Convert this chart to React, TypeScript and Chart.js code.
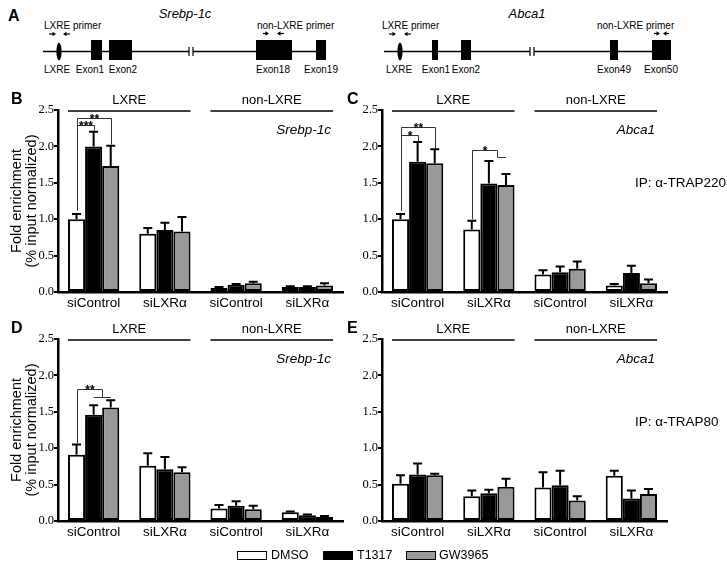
import React, { useEffect, useRef } from 'react';
import { Chart, registerables } from 'chart.js';

Chart.register(...registerables);

const SANS = "'Liberation Sans', Arial, Helvetica, sans-serif";
const SERIF = "'Liberation Serif', 'Times New Roman', serif";

// ---------- data ----------
const categories = ['siControl', 'siLXRα', 'siControl', 'siLXRα'];
const seriesNames = ['DMSO', 'T1317', 'GW3965'];
const seriesColors = ['#ffffff', '#000000', '#999999'];
const groupHeaders = ['LXRE', 'non-LXRE'];
const yTickValues = [0, 0.5, 1.0, 1.5, 2.0, 2.5];

// Panel B (Srebp-1c, IP TRAP220)
const bDMSO = [1.0, 0.8, 0.06, 0.07];
const bDMSOErr = [0.07, 0.08, 0.01, 0.01];
const bT1317 = [2.0, 0.85, 0.1, 0.07];
const bT1317Err = [0.2, 0.1, 0.01, 0.01];
const bGW = [1.73, 0.83, 0.12, 0.09];
const bGWErr = [0.28, 0.2, 0.02, 0.03];

// Panel C (Abca1, IP TRAP220)
const cDMSO = [1.0, 0.86, 0.24, 0.09];
const cDMSOErr = [0.07, 0.12, 0.06, 0.02];
const cT1317 = [1.79, 1.49, 0.27, 0.26];
const cT1317Err = [0.27, 0.31, 0.08, 0.1];
const cGW = [1.77, 1.47, 0.32, 0.12];
const cGWErr = [0.19, 0.15, 0.1, 0.05];

// Panel D (Srebp-1c, IP TRAP80)
const dDMSO = [0.91, 0.76, 0.17, 0.12];
const dDMSOErr = [0.14, 0.17, 0.05, 0.01];
const dT1317 = [1.46, 0.71, 0.21, 0.08];
const dT1317Err = [0.13, 0.17, 0.06, 0.01];
const dGW = [1.56, 0.67, 0.16, 0.06];
const dGWErr = [0.1, 0.07, 0.05, 0.01];

// Panel E (Abca1, IP TRAP80)
const eDMSO = [0.51, 0.34, 0.46, 0.62];
const eDMSOErr = [0.12, 0.08, 0.21, 0.07];
const eT1317 = [0.64, 0.38, 0.49, 0.31];
const eT1317Err = [0.15, 0.05, 0.2, 0.11];
const eGW = [0.63, 0.47, 0.28, 0.37];
const eGWErr = [0.02, 0.11, 0.06, 0.07];

// significance brackets: a/b are bar slots (0 DMSO, 1 T1317, 2 GW3965; fractions interpolate)
const bBrackets = [
  { cat: 0, a: 0, b: 1, top: 2.29, aEnd: 1.12, bEnd: 2.23, text: '***' },
  { cat: 0, a: 0, b: 2, top: 2.39, aEnd: 1.12, bEnd: 2.03, text: '**' },
];
const cBrackets = [
  { cat: 0, a: 0, b: 1, top: 2.16, aEnd: 1.12, bEnd: 2.08, text: '*' },
  { cat: 0, a: 0, b: 2, top: 2.26, aEnd: 1.12, bEnd: 1.98, text: '**' },
  { cat: 1, a: 0, b: 1.5, top: 1.95, aEnd: 1.0, bEnd: 1.85, stub: [1.5, 2], text: '*' },
];
const dBrackets = [
  { cat: 0, a: 0, b: 1.5, top: 1.82, aEnd: 1.07, bEnd: 1.7, stub: [1, 2], text: '**' },
];
const eBrackets: any[] = [];

// ---------- panels ----------
const panels = [
  {
    key: 'B', letter: 'B', gene: 'Srebp-1c', ip: null, ipValue: 0,
    values: [bDMSO, bT1317, bGW], errs: [bDMSOErr, bT1317Err, bGWErr], brackets: bBrackets,
    left: 0, top: 80, w: 360, h: 240, yw: 58, padTop: 30, padRight: 17, xh: 28, letterX: 11, yTitle: true,
  },
  {
    key: 'C', letter: 'C', gene: 'Abca1', ip: 'IP: α-TRAP220', ipValue: 1.5,
    values: [cDMSO, cT1317, cGW], errs: [cDMSOErr, cT1317Err, cGWErr], brackets: cBrackets,
    left: 340, top: 80, w: 387, h: 240, yw: 42, padTop: 30, padRight: 60, xh: 28, letterX: 7, yTitle: false,
  },
  {
    key: 'D', letter: 'D', gene: 'Srebp-1c', ip: null, ipValue: 0,
    values: [dDMSO, dT1317, dGW], errs: [dDMSOErr, dT1317Err, dGWErr], brackets: dBrackets,
    left: 0, top: 310, w: 360, h: 240, yw: 58, padTop: 29, padRight: 17, xh: 29, letterX: 11, yTitle: true,
  },
  {
    key: 'E', letter: 'E', gene: 'Abca1', ip: 'IP: α-TRAP80', ipValue: 1.36,
    values: [eDMSO, eT1317, eGW], errs: [eDMSOErr, eT1317Err, eGWErr], brackets: eBrackets,
    left: 340, top: 310, w: 387, h: 240, yw: 42, padTop: 29, padRight: 60, xh: 29, letterX: 7, yTitle: false,
  },
];

function slotX(chart: any, cat: number, slot: number) {
  const lo = Math.min(Math.floor(slot), 2);
  const hi = Math.min(lo + 1, 2);
  const f = slot - lo;
  const xa = chart.getDatasetMeta(lo).data[cat].x;
  const xb = chart.getDatasetMeta(hi).data[cat].x;
  return xa + (xb - xa) * f;
}

function buildConfig(p: any): any {
  const errorBars = {
    id: 'errbars' + p.key,
    afterDatasetsDraw(chart: any) {
      const ctx = chart.ctx;
      const ys = chart.scales.y;
      ctx.save();
      ctx.strokeStyle = '#000';
      ctx.lineWidth = 2;
      chart.data.datasets.forEach((ds: any, di: number) => {
        const meta = chart.getDatasetMeta(di);
        meta.data.forEach((el: any, i: number) => {
          const v = ds.data[i];
          const e = ds.errors[i];
          const y0 = ys.getPixelForValue(v);
          const y1 = ys.getPixelForValue(v + e);
          ctx.beginPath();
          ctx.moveTo(el.x, y0);
          ctx.lineTo(el.x, y1);
          ctx.moveTo(el.x - 4.5, y1);
          ctx.lineTo(el.x + 4.5, y1);
          ctx.stroke();
        });
      });
      ctx.restore();
    },
  };

  const decor = {
    id: 'decor' + p.key,
    afterDraw(chart: any) {
      const ctx = chart.ctx;
      const ys = chart.scales.y;
      const { top, right } = chart.chartArea;
      ctx.save();
      ctx.fillStyle = '#000';
      ctx.strokeStyle = '#000';
      // panel letter
      ctx.font = `bold 16px ${SANS}`;
      ctx.textAlign = 'left';
      ctx.textBaseline = 'middle';
      ctx.fillText(p.letter, p.letterX, top - 10);
      // group headers
      ctx.font = `13px ${SANS}`;
      ctx.textAlign = 'center';
      groupHeaders.forEach((h, gi) => {
        const c0 = gi * 2;
        const c1 = gi * 2 + 1;
        const e0: any = chart.getDatasetMeta(0).data[c0];
        const e1: any = chart.getDatasetMeta(2).data[c1];
        const x0 = e0.x - e0.width / 2;
        const x1 = e1.x + e1.width / 2;
        ctx.lineWidth = 1.5;
        ctx.beginPath();
        ctx.moveTo(x0, top + 1);
        ctx.lineTo(x1, top + 1);
        ctx.stroke();
        ctx.fillText(h, (x0 + x1) / 2, top - 10);
      });
      // gene name
      const last: any = chart.getDatasetMeta(2).data[3];
      ctx.font = `italic 13.5px ${SANS}`;
      ctx.textAlign = 'right';
      ctx.fillText(p.gene, last.x + last.width / 2 - 2, top + 20);
      // IP label
      if (p.ip) {
        ctx.font = `13.5px ${SANS}`;
        ctx.textAlign = 'left';
        ctx.fillText(p.ip, right - 32, ys.getPixelForValue(p.ipValue));
      }
      // brackets
      ctx.strokeStyle = '#333';
      ctx.lineWidth = 1;
      ctx.font = `bold 12px ${SANS}`;
      ctx.textAlign = 'center';
      ctx.textBaseline = 'alphabetic';
      p.brackets.forEach((br: any) => {
        const xa = Math.round(slotX(chart, br.cat, br.a)) + 0.5;
        const xb = Math.round(slotX(chart, br.cat, br.b)) + 0.5;
        const yt = Math.round(ys.getPixelForValue(br.top)) + 0.5;
        const ya = ys.getPixelForValue(br.aEnd);
        const yb = Math.round(ys.getPixelForValue(br.bEnd)) + 0.5;
        ctx.beginPath();
        ctx.moveTo(xa, ya);
        ctx.lineTo(xa, yt);
        ctx.lineTo(xb, yt);
        ctx.lineTo(xb, yb);
        if (br.stub) {
          ctx.moveTo(slotX(chart, br.cat, br.stub[0]), yb);
          ctx.lineTo(slotX(chart, br.cat, br.stub[1]), yb);
        }
        ctx.stroke();
        ctx.fillText(br.text, (xa + xb) / 2, yt + 4);
      });
      ctx.restore();
    },
  };

  return {
    type: 'bar',
    data: {
      labels: categories,
      datasets: seriesNames.map((name, i) => ({
        label: name,
        data: p.values[i],
        errors: p.errs[i],
        backgroundColor: seriesColors[i],
        borderColor: '#000',
        borderWidth: 2,
        borderSkipped: false,
        categoryPercentage: 0.72,
        barPercentage: 1.0,
      })),
    },
    options: {
      animation: false,
      responsive: false,
      maintainAspectRatio: false,
      events: [],
      layout: { padding: { top: p.padTop, right: p.padRight, left: 0, bottom: 0 } },
      plugins: { legend: { display: false }, tooltip: { enabled: false } },
      scales: {
        x: {
          afterFit: (s: any) => { s.height = p.xh; },
          grid: { display: false, drawTicks: false },
          border: { display: true, width: 2.5, color: '#000' },
          ticks: {
            color: '#000', padding: 3, maxRotation: 0, autoSkip: false,
            font: { family: SANS, size: 13.5 },
          },
        },
        y: {
          min: 0,
          max: 2.5,
          afterFit: (s: any) => { s.width = p.yw; },
          afterBuildTicks: (s: any) => { s.ticks = yTickValues.map((v) => ({ value: v })); },
          ticks: {
            color: '#000', padding: 0,
            font: { family: SERIF, size: 12.5 },
            callback: (v: any) => Number(v).toFixed(1),
          },
          grid: {
            display: true, drawOnChartArea: false, drawTicks: true,
            tickLength: 4, lineWidth: 2, color: '#000',
          },
          border: { display: true, width: 2.5, color: '#000' },
          title: {
            display: p.yTitle,
            text: ['Fold enrichment', '(% input normalized)'],
            color: '#000',
            font: { family: SANS, size: 14.5, lineHeight: 1.03 },
            padding: { top: 10, bottom: 0 },
          },
        },
      },
    },
    plugins: [errorBars, decor],
  };
}

function Panel({ p }: { p: any }) {
  const ref = useRef<HTMLCanvasElement>(null);
  useEffect(() => {
    const chart = new Chart(ref.current as HTMLCanvasElement, buildConfig(p));
    return () => chart.destroy();
  }, [p]);
  return (
    <canvas
      ref={ref}
      width={p.w}
      height={p.h}
      style={{ position: 'absolute', left: p.left, top: p.top, width: p.w, height: p.h }}
    />
  );
}

// ---------- panel A (gene diagrams) ----------
function Arrow({ x1, x2, y }: { x1: number; x2: number; y: number }) {
  const dir = x2 > x1 ? 1 : -1;
  return (
    <g>
      <line x1={x1} y1={y} x2={x2 - dir * 2} y2={y} stroke="#000" strokeWidth={1.2} />
      <polygon points={`${x2},${y} ${x2 - dir * 3.5},${y - 2.2} ${x2 - dir * 3.5},${y + 2.2}`} fill="#000" />
    </g>
  );
}

const geneDiagrams = [
  {
    name: 'Srebp-1c', nameX: 185,
    primerLabelX: 44, nonPrimerLabelX: 257,
    arrows: [[49, 56], [70, 63], [263, 269], [284, 277]],
    lineStart: 43, breakAt: 189, lineEnd: 316, lxreX: 59,
    exons: [[91, 102], [109, 132], [256, 292], [316, 326]],
    labels: [['LXRE', 57], ['Exon1', 90], ['Exon2', 123], ['Exon18', 273], ['Exon19', 321]],
  },
  {
    name: 'Abca1', nameX: 527,
    primerLabelX: 382, nonPrimerLabelX: 597,
    arrows: [[389, 396], [411, 404], [654, 660], [669, 663]],
    lineStart: 384, breakAt: 530, lineEnd: 652, lxreX: 400,
    exons: [[432, 438], [461, 471], [610, 618], [652, 671]],
    labels: [['LXRE', 399], ['Exon1', 436], ['Exon2', 466], ['Exon49', 614], ['Exon50', 661]],
  },
];

function PanelA() {
  const lineY = 51.5;
  return (
    <svg width={727} height={80} style={{ position: 'absolute', left: 0, top: 0 }}>
      <text x={8} y={21} fontFamily={SANS} fontWeight="bold" fontSize={16}>A</text>
      {geneDiagrams.map((g) => (
        <g key={g.name}>
          <text x={g.nameX} y={18} fontFamily={SANS} fontStyle="italic" fontSize={13} textAnchor="middle">{g.name}</text>
          <text x={g.primerLabelX} y={29} fontFamily={SANS} fontSize={10}>LXRE primer</text>
          <text x={g.nonPrimerLabelX} y={29} fontFamily={SANS} fontSize={10}>non-LXRE primer</text>
          {g.arrows.map((a, i) => (
            <Arrow key={i} x1={a[0]} x2={a[1]} y={i < 2 ? 34 : 33.5} />
          ))}
          <line x1={g.lineStart} y1={lineY} x2={g.breakAt} y2={lineY} stroke="#000" strokeWidth={1.5} />
          <line x1={g.breakAt + 4} y1={lineY} x2={g.lineEnd} y2={lineY} stroke="#000" strokeWidth={1.5} />
          <line x1={g.breakAt} y1={47} x2={g.breakAt} y2={56} stroke="#000" strokeWidth={1.2} />
          <line x1={g.breakAt + 4} y1={47} x2={g.breakAt + 4} y2={56} stroke="#000" strokeWidth={1.2} />
          <ellipse cx={g.lxreX} cy={lineY} rx={2.6} ry={9} fill="#000" />
          {g.exons.map((e, i) => (
            <rect key={i} x={e[0]} y={40} width={e[1] - e[0]} height={20} fill="#000" />
          ))}
          {g.labels.map((l, i) => (
            <text key={i} x={l[1] as number} y={73} fontFamily={SANS} fontSize={10} textAnchor="middle">{l[0]}</text>
          ))}
        </g>
      ))}
    </svg>
  );
}

const legendLayout = [
  { box: 237, text: 271 },
  { box: 323, text: 357 },
  { box: 406, text: 439 },
];

function Legend() {
  return (
    <>
      {seriesNames.map((n, i) => (
        <React.Fragment key={n}>
          <div
            style={{
              position: 'absolute', left: legendLayout[i].box, top: 551, width: 30, height: 9,
              boxSizing: 'border-box', border: '1.5px solid #000', background: seriesColors[i],
            }}
          />
          <div
            style={{
              position: 'absolute', left: legendLayout[i].text, top: 547, height: 17, lineHeight: '17px',
              fontFamily: SANS, fontSize: 12.5, color: '#000',
            }}
          >
            {n}
          </div>
        </React.Fragment>
      ))}
    </>
  );
}

export default function App() {
  return (
    <div style={{ position: 'absolute', left: 0, top: 0, width: 727, height: 567, background: '#fff', overflow: 'hidden' }}>
      <PanelA />
      {panels.map((p) => (
        <Panel key={p.key} p={p} />
      ))}
      <Legend />
    </div>
  );
}
